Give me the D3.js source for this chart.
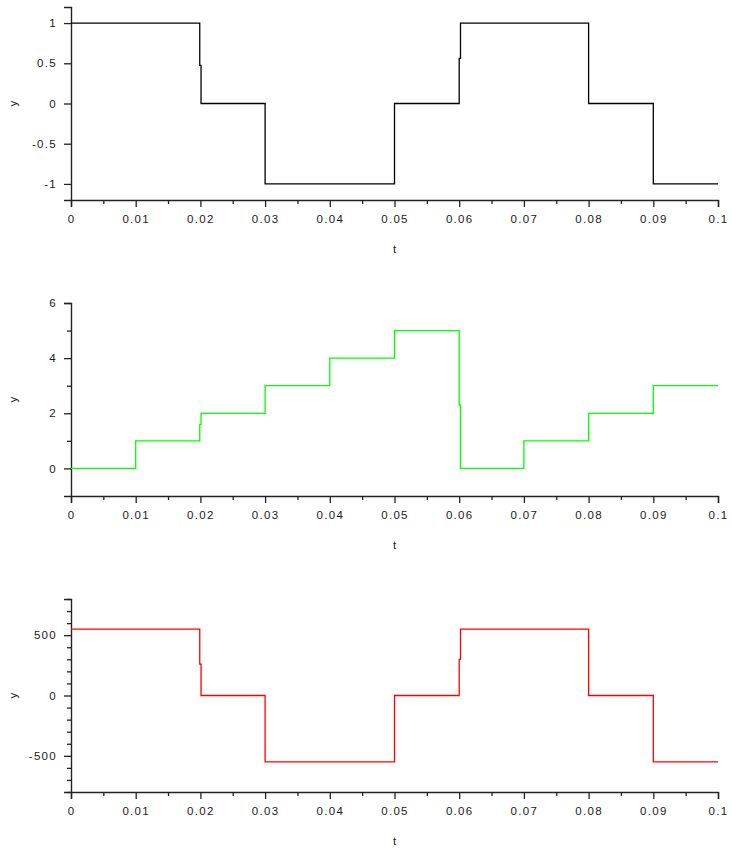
<!DOCTYPE html>
<html lang="en">
<head>
    <meta charset="utf-8">
    <title>t / y step plots</title>
    <script src="https://cdn.jsdelivr.net/npm/d3@7"></script>
    <style>
        body { margin: 0; background: #fff; }
        text { font-family: "Liberation Sans", Arial, sans-serif; fill: #1a1a1a; }
    </style>
</head>
<body>
<svg id="chart" width="732" height="850"></svg>
<script>
// sample times (the tiny offsets reproduce the solver's half-steps)
const tA = [0, 0.0199, 0.0199, 0.0201, 0.0201, 0.03, 0.03, 0.05, 0.05, 0.06, 0.06, 0.0602, 0.0602, 0.08, 0.08, 0.09, 0.09, 0.1];
const tB = [0, 0.01, 0.01, 0.0199, 0.0199, 0.0201, 0.0201, 0.03, 0.03, 0.04, 0.04, 0.05, 0.05, 0.06, 0.06, 0.0602, 0.0602, 0.07, 0.07, 0.08, 0.08, 0.09, 0.09, 0.1];

const ySquare = [1, 1, 0.475, 0.475, 0, 0, -1, -1, 0, 0, 0.56, 0.56, 1, 1, 0, 0, -1, -1];
const yCount  = [0, 0, 1, 1, 1.6, 1.6, 2, 2, 3, 3, 4, 4, 5, 5, 2.3, 2.3, 0, 0, 1, 1, 2, 2, 3, 3];
const yScaled = [550, 550, 260, 260, 0, 0, -550, -550, 0, 0, 300, 300, 550, 550, 0, 0, -550, -550];

const xTicks = [0, 0.01, 0.02, 0.03, 0.04, 0.05, 0.06, 0.07, 0.08, 0.09, 0.1];
const xMinor = [0.005, 0.015, 0.025, 0.035, 0.045, 0.055, 0.065, 0.075, 0.085, 0.095];

const panels = [
    { t: tA, y: ySquare, color: '#000000', top: 7,   domain: [-1.2, 1.2], ticks: [-1, -0.5, 0, 0.5, 1], minor: [] },
    { t: tB, y: yCount,  color: '#00ff00', top: 303, domain: [-1, 6],     ticks: [0, 2, 4, 6], minor: [1, 3, 5] },
    { t: tA, y: yScaled, color: '#ff0000', top: 599, domain: [-800, 800], ticks: [-500, 0, 500],
      minor: [-800, -700, -600, -400, -300, -200, -100, 100, 200, 300, 400, 600, 700, 800] }
];

const left = 71, right = 718, ph = 193;
const svg = d3.select('#chart');
const x = d3.scaleLinear().domain([0, 0.1]).range([left, right]);

panels.forEach(function (p) {
    const g = svg.append('g');
    const y = d3.scaleLinear().domain(p.domain).range([p.top + ph, p.top]);
    const bottom = p.top + ph;

    // x axis
    g.append('g').attr('transform', 'translate(0,' + bottom + ')')
        .call(d3.axisBottom(x).tickValues(xTicks).tickSize(7).tickPadding(8)
            .tickFormat(d => d === 0 ? '0' : d3.format('.2~f')(d)));
    g.append('g').attr('transform', 'translate(0,' + bottom + ')')
        .call(d3.axisBottom(x).tickValues(xMinor).tickSize(4).tickFormat(''))
        .call(s => s.select('.domain').remove());

    // y axis
    g.append('g').attr('transform', 'translate(' + left + ',0)')
        .call(d3.axisLeft(y).tickValues(p.ticks).tickSize(7).tickPadding(7)
            .tickFormat(d => String(d)));
    g.append('g').attr('transform', 'translate(' + left + ',0)')
        .call(d3.axisLeft(y).tickValues(p.minor).tickSize(4).tickFormat(''))
        .call(s => s.select('.domain').remove());

    g.selectAll('.domain').attr('stroke', '#222').attr('stroke-width', 1.4);
    g.selectAll('.tick line').attr('stroke', '#222').attr('stroke-width', 1.3);
    g.selectAll('.tick text').attr('font-size', 11.5).attr('fill', '#1a1a1a')
        .style('letter-spacing', '1.3px');

    // axis titles
    g.append('text')
        .attr('x', (left + right) / 2)
        .attr('y', bottom + 53)
        .attr('text-anchor', 'middle')
        .attr('font-size', 11.5)
        .text('t');
    g.append('text')
        .attr('transform', 'translate(17,' + y(d3.mean(p.domain)) + ') rotate(-90)')
        .attr('text-anchor', 'middle')
        .attr('font-size', 11.5)
        .text('y');

    // signal
    const pts = p.t.map((t, i) => [t, p.y[i]]);
    g.append('path')
        .datum(pts)
        .attr('fill', 'none')
        .attr('stroke', p.color)
        .attr('stroke-width', 1.3)
        .attr('d', d3.line().x(d => x(d[0])).y(d => y(d[1])));
});
</script>
</body>
</html>
